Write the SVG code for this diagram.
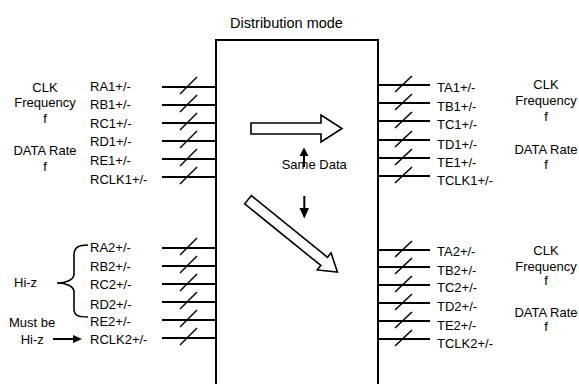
<svg xmlns="http://www.w3.org/2000/svg" xmlns:xlink="http://www.w3.org/1999/xlink" width="579" height="384" viewBox="0 0 579 384">
<style>
text{font-family:"Liberation Sans",Arial,sans-serif;font-size:13px;fill:#000}
.c{text-anchor:middle}
.ln{stroke:#000;stroke-width:2;fill:none}
.sl{stroke:#000;stroke-width:1.5;fill:none}
.hol{fill:#fff;stroke:#000;stroke-width:1.6;stroke-linejoin:miter}
.blk{fill:#000;stroke:none}
</style>
<defs>
<g id="busL"><line class="ln" x1="162" y1="0" x2="216" y2="0"/><line class="sl" x1="180" y1="7" x2="197" y2="-10"/></g>
<g id="busR"><line class="ln" x1="378" y1="0" x2="430" y2="0"/><line class="sl" x1="395" y1="7" x2="412" y2="-9"/></g>
</defs>
<rect width="579" height="384" fill="#fff"/>
<g id="title"><text x="286.5" y="28" class="c" style="font-size:14.5px">Distribution mode</text></g>
<g id="box"><path class="ln" d="M216,386 V40 H378 V386"/></g>
<g id="connectors">
<use xlink:href="#busL" y="87"/><use xlink:href="#busL" y="105"/><use xlink:href="#busL" y="123"/>
<use xlink:href="#busL" y="141"/><use xlink:href="#busL" y="159"/><use xlink:href="#busL" y="177"/>
<use xlink:href="#busL" y="248"/><use xlink:href="#busL" y="266"/><use xlink:href="#busL" y="284"/>
<use xlink:href="#busL" y="302"/><use xlink:href="#busL" y="320"/><use xlink:href="#busL" y="338"/>
<use xlink:href="#busR" y="85"/><use xlink:href="#busR" y="103"/><use xlink:href="#busR" y="121"/>
<use xlink:href="#busR" y="140"/><use xlink:href="#busR" y="158"/><use xlink:href="#busR" y="176"/>
<use xlink:href="#busR" y="250"/><use xlink:href="#busR" y="267"/><use xlink:href="#busR" y="285"/>
<use xlink:href="#busR" y="303"/><use xlink:href="#busR" y="321"/><use xlink:href="#busR" y="339"/>
<path class="ln" d="M88,245 C79,245 74,247 74,255 V274 C74,280 66,283 57,283 C66,283 74,286 74,292 V309 C74,316 79,317 88,317" style="stroke-width:1.6"/>
<line class="ln" x1="53" y1="339" x2="75" y2="339"/>
<polygon class="blk" points="73,335 82,339 73,343"/>
<line class="ln" x1="304" y1="167" x2="304" y2="154"/>
<polygon class="blk" points="299.5,156 304,147.5 308.5,156"/>
<line class="ln" x1="304.3" y1="196" x2="304.3" y2="210"/>
<polygon class="blk" points="299.5,208 304.3,218.5 309,208"/>
<polygon class="hol" points="251,123 321,123 321,115 342,128.5 321,142 321,134 251,134"/>
<polygon class="hol" transform="translate(248,199.7) rotate(39)" points="0,-5.3 98,-5.3 98,-11 115,0 98,11 98,5.3 0,5.3"/>
</g>
<g id="left-top-labels">
<text x="90" y="91.4">RA1+/-</text><text x="90" y="109">RB1+/-</text><text x="90" y="127.7">RC1+/-</text>
<text x="90" y="146.4">RD1+/-</text><text x="90" y="164.7">RE1+/-</text><text x="90" y="183.7">RCLK1+/-</text>
</g>
<g id="left-top-note">
<text x="45" y="91.7" class="c">CLK</text><text x="45" y="107.4" class="c">Frequency</text><text x="45" y="123" class="c">f</text>
<text x="45" y="155.4" class="c">DATA Rate</text><text x="45" y="171.4" class="c">f</text>
</g>
<g id="left-bottom-labels">
<text x="90" y="252.4">RA2+/-</text><text x="90" y="270.7">RB2+/-</text><text x="90" y="289">RC2+/-</text>
<text x="90" y="309">RD2+/-</text><text x="90" y="325.7">RE2+/-</text><text x="90" y="344">RCLK2+/-</text>
</g>
<g id="left-bottom-note">
<text x="14" y="286.7">Hi-z</text>
<text x="32" y="326.7" class="c">Must be</text>
<text x="20.7" y="343.7">Hi-z</text>
</g>
<g id="center-note"><text x="281.7" y="168.7">Same Data</text></g>
<g id="right-top-labels">
<text x="437" y="91.5">TA1+/-</text><text x="437" y="110.5">TB1+/-</text><text x="437" y="129">TC1+/-</text>
<text x="437" y="148.5">TD1+/-</text><text x="437" y="166.5">TE1+/-</text><text x="437" y="184.5">TCLK1+/-</text>
</g>
<g id="right-top-note">
<text x="546" y="89.4" class="c">CLK</text><text x="546" y="105.4" class="c">Frequency</text><text x="546" y="121.4" class="c">f</text>
<text x="546" y="154" class="c">DATA Rate</text><text x="546" y="168.7" class="c">f</text>
</g>
<g id="right-bottom-labels">
<text x="437" y="255.7">TA2+/-</text><text x="437" y="274.7">TB2+/-</text><text x="437" y="292">TC2+/-</text>
<text x="437" y="311.4">TD2+/-</text><text x="437" y="329.7">TE2+/-</text><text x="437" y="348">TCLK2+/-</text>
</g>
<g id="right-bottom-note">
<text x="546" y="254.7" class="c">CLK</text><text x="546" y="270.7" class="c">Frequency</text><text x="546" y="285.4" class="c">f</text>
<text x="546" y="317.4" class="c">DATA Rate</text><text x="546" y="331.4" class="c">f</text>
</g>
</svg>
